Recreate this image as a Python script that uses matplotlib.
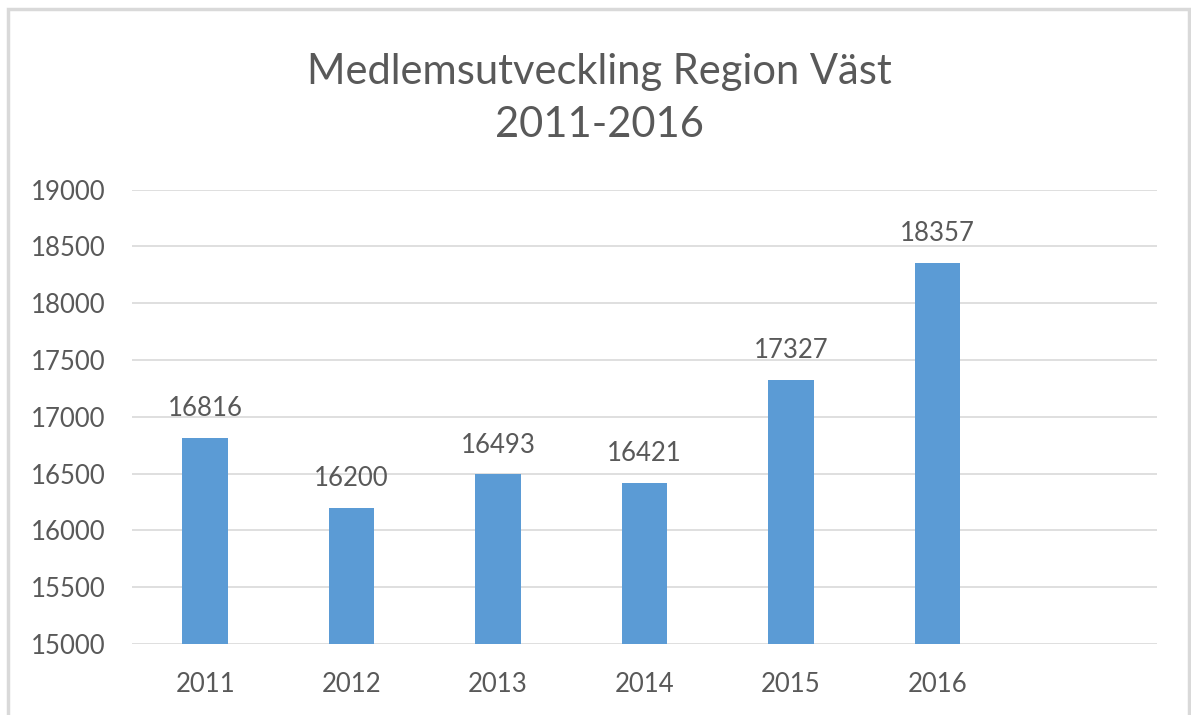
import matplotlib.pyplot as plt
from matplotlib.patches import Rectangle

years = ["2011", "2012", "2013", "2014", "2015", "2016"]
members = [16816, 16200, 16493, 16421, 17327, 18357]
yticks = list(range(15000, 19001, 500))

bar_color = "#5B9BD5"
text_color = "#595959"
grid_color = "#D9D9D9"

plt.rcParams['font.family'] = ['Lato', 'DejaVu Sans']

fig = plt.figure(figsize=(11.91, 7.15), dpi=100)
ax = fig.add_axes([0.1108, 0.0993, 0.8607, 0.6355])

# outer chart border
fig.patches.append(Rectangle((8 / 1191, -0.01), 1181 / 1191, 1 - 9 / 715 + 0.01,
                             transform=fig.transFigure, fill=False,
                             edgecolor=grid_color, linewidth=2.5))

x = list(range(len(years)))
bars = ax.bar(x, members, width=0.31, color=bar_color, zorder=3)
for xi, v in zip(x, members):
    ax.annotate(str(v), (xi, v), xytext=(0, 12), textcoords="offset points",
                ha="center", va="bottom", fontsize=18.5, color=text_color)

ax.set_xlim(-0.5, 6.5)
ax.set_ylim(15000, 19000)
ax.set_yticks(yticks)
ax.set_xticks(x)
ax.set_xticklabels(years)
ax.grid(axis="y", color=grid_color, linewidth=1.2, zorder=0)
for s in ax.spines.values():
    s.set_visible(False)
ax.tick_params(axis="both", length=0, labelsize=18.5, labelcolor=text_color)
ax.tick_params(axis="y", pad=19)
ax.tick_params(axis="x", pad=20)

fig.text(0.503, 0.862, "Medlemsutveckling Region Väst\n2011-2016", ha="center", va="center",
         fontsize=30, color=text_color, linespacing=1.48)

fig.savefig("out.png", dpi=100)
